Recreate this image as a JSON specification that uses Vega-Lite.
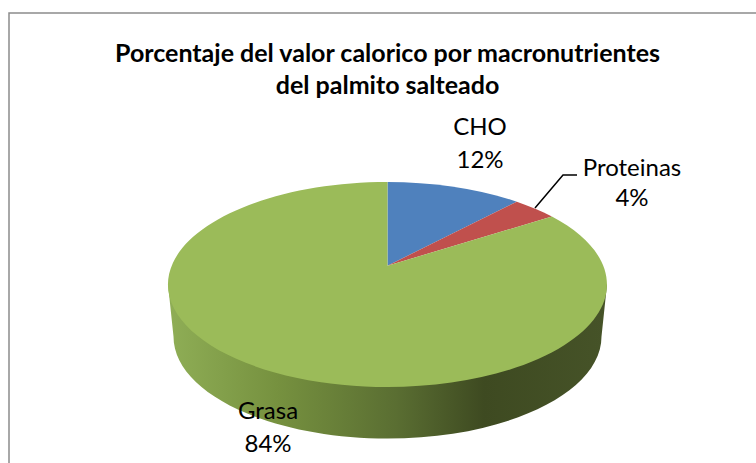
{
  "$schema": "https://vega.github.io/schema/vega-lite/v6.json",
  "width": 756,
  "height": 463,
  "autosize": {"type": "fit", "contains": "padding"},
  "padding": 0,
  "background": "#ffffff",
  "view": {"stroke": null},
  "datasets": {
    "slices": [
      {"slice": "CHO", "percent": 12, "cx": 387.5, "cy": 284.5, "labelX": 480, "labelY": 128, "pctY": 161},
      {"slice": "Proteinas", "percent": 4, "cx": 387.5, "cy": 284.5, "labelX": 632, "labelY": 169, "pctY": 199},
      {"slice": "Grasa", "percent": 84, "cx": 387.5, "cy": 284.5, "labelX": 268, "labelY": 412, "pctY": 445}
    ],
    "leader": [
      {"step": 1, "px": 535, "py": 208},
      {"step": 2, "px": 563, "py": 175},
      {"step": 3, "px": 577, "py": 175}
    ],
    "frame": [
      {"px": 756, "py": 13},
      {"px": 9, "py": 13},
      {"px": 9, "py": 463}
    ]
  },
  "resolve": {"scale": {"shape": "independent", "color": "independent"}},
  "encoding": {
    "x": {"type": "quantitative", "scale": {"domain": [0, 756], "range": [0, 756]}, "axis": null},
    "y": {"type": "quantitative", "scale": {"domain": [0, 463], "range": [0, 463]}, "axis": null}
  },
  "layer": [
    {
      "data": {"name": "frame"},
      "mark": {"type": "line", "stroke": "#8c8c8c", "strokeWidth": 1.5, "clip": false},
      "encoding": {"x": {"field": "px", "type": "quantitative"}, "y": {"field": "py", "type": "quantitative"}, "order": {"field": "py"}}
    },
    {
      "data": {"name": "slices"},
      "transform": [{"filter": "datum.slice === 'Grasa'"}],
      "mark": {
        "type": "point", "filled": true, "opacity": 1, "size": 4,
        "shape": "M-219.5,0 L-214,52 A214,102 0 0 0 214,52 L219.5,0 Z",
        "fill": {
          "gradient": "linear", "x1": 0, "y1": 0, "x2": 1, "y2": 0,
          "stops": [
            {"offset": 0, "color": "#8fae56"},
            {"offset": 0.25, "color": "#76913f"},
            {"offset": 0.52, "color": "#5a6e32"},
            {"offset": 0.72, "color": "#3e4a21"},
            {"offset": 1, "color": "#465328"}
          ]
        }
      },
      "encoding": {"x": {"field": "cx", "type": "quantitative"}, "y": {"field": "cy", "type": "quantitative"}}
    },
    {
      "data": {"name": "slices"},
      "mark": {"type": "point", "filled": true, "opacity": 1, "size": 4},
      "encoding": {
        "x": {"field": "cx", "type": "quantitative"},
        "y": {"field": "cy", "type": "quantitative"},
        "shape": {
          "field": "slice", "type": "nominal", "legend": null,
          "scale": {
            "domain": ["CHO", "Proteinas", "Grasa"],
            "range": [
              "M0,-18.8 L0,-102.5 A219.5,102.5 0 0 1 129.3,-82.8 Z",
              "M0,-18.8 L129.3,-82.8 A219.5,102.5 0 0 1 164.4,-67.9 Z",
              "M0,-18.8 L164.4,-67.9 A219.5,102.5 0 1 1 0,-102.5 Z"
            ]
          }
        },
        "color": {
          "field": "slice", "type": "nominal", "legend": null,
          "scale": {"domain": ["CHO", "Proteinas", "Grasa"], "range": ["#4f81bd", "#c0504d", "#9bbb59"]}
        }
      }
    },
    {
      "data": {"name": "leader"},
      "mark": {"type": "line", "stroke": "#000000", "strokeWidth": 1.5},
      "encoding": {"x": {"field": "px", "type": "quantitative"}, "y": {"field": "py", "type": "quantitative"}, "order": {"field": "step"}}
    },
    {
      "data": {"name": "slices"},
      "mark": {"type": "text", "font": "Lato", "fontSize": 24, "color": "#000000", "align": "center", "baseline": "middle"},
      "encoding": {"x": {"field": "labelX", "type": "quantitative"}, "y": {"field": "labelY", "type": "quantitative"}, "text": {"field": "slice"}}
    },
    {
      "data": {"name": "slices"},
      "transform": [{"calculate": "datum.percent + '%'", "as": "pct"}],
      "mark": {"type": "text", "font": "Lato", "fontSize": 24, "color": "#000000", "align": "center", "baseline": "middle"},
      "encoding": {"x": {"field": "labelX", "type": "quantitative"}, "y": {"field": "pctY", "type": "quantitative"}, "text": {"field": "pct"}}
    },
    {
      "data": {"values": [
        {"line": "Porcentaje del valor calorico por macronutrientes", "lx": 387.5, "ly": 54},
        {"line": "del palmito salteado", "lx": 387.5, "ly": 86}
      ]},
      "mark": {"type": "text", "font": "Lato", "fontWeight": "bold", "fontSize": 25, "color": "#000000", "align": "center", "baseline": "middle"},
      "encoding": {"x": {"field": "lx", "type": "quantitative"}, "y": {"field": "ly", "type": "quantitative"}, "text": {"field": "line"}}
    }
  ]
}
